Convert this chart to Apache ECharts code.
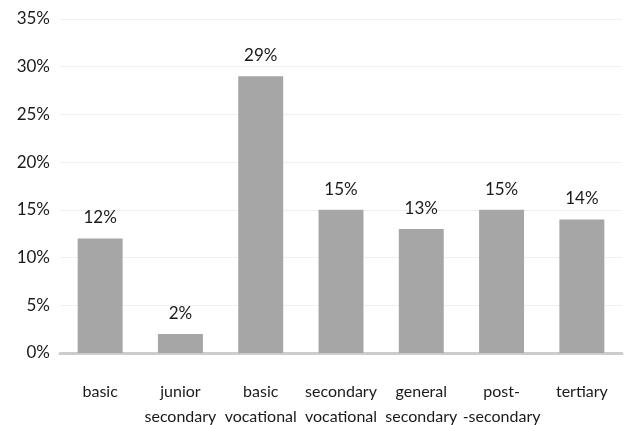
<!DOCTYPE html>
<html>
<head>
<meta charset="utf-8">
<script src="https://cdn.jsdelivr.net/npm/echarts@6/dist/echarts.min.js"></script>
<style>
  html, body { margin: 0; padding: 0; background: #fff; }
  #chart { width: 632px; height: 425px; }
</style>
</head>
<body>
<div id="chart"></div>
<script>
// data
const categories = ['basic', 'junior\nsecondary', 'basic\nvocational', 'secondary\nvocational',
  'general\nsecondary', 'post-\n-secondary', 'tertiary'];
const shares = [12, 2, 29, 15, 13, 15, 14];
const yTicks = [0, 5, 10, 15, 20, 25, 30, 35];

const font = 'Lato';
const chart = echarts.init(document.getElementById('chart'));

chart.setOption({
  animation: false,
  textStyle: { fontFamily: font },
  grid: { left: 60, right: 10, top: 19, bottom: 72, outerBoundsMode: 'none' },
  xAxis: {
    type: 'category',
    data: categories,
    axisLine: { lineStyle: { color: '#cccccc', width: 3 } },
    axisTick: { show: false },
    axisLabel: {
      color: '#1a1a1a', fontSize: 16, margin: 26, lineHeight: 25,
      interval: 0, fontFamily: font
    }
  },
  yAxis: {
    type: 'value',
    min: yTicks[0],
    max: yTicks[yTicks.length - 1],
    interval: 5,
    axisLine: { show: false },
    axisTick: { show: false },
    splitLine: { lineStyle: { color: '#f0f0f0', width: 1 } },
    axisLabel: {
      color: '#1a1a1a', fontSize: 17, margin: 10, fontFamily: font,
      formatter: v => v + '%'
    }
  },
  series: [{
    type: 'bar',
    data: shares,
    barWidth: '56%',
    itemStyle: { color: '#a6a6a6' },
    label: {
      show: true,
      position: 'top',
      distance: 12,
      color: '#1a1a1a',
      fontSize: 17,
      fontFamily: font,
      formatter: p => p.value + '%'
    }
  }]
});
</script>
</body>
</html>
